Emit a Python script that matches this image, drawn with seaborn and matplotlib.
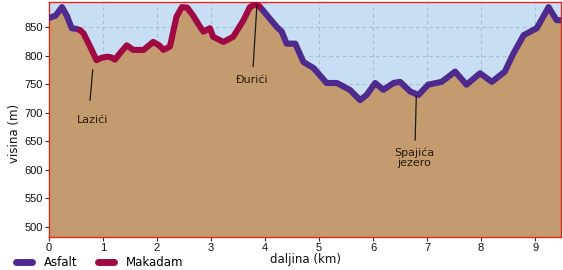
import matplotlib
matplotlib.use("Agg")
import matplotlib.pyplot as plt
from matplotlib.lines import Line2D
import seaborn as sns
import pandas as pd
import numpy as np

# ---- data ----
dist = [0.00, 0.12, 0.24, 0.33, 0.42, 0.50, 0.57, 0.64, 0.76, 0.88, 0.97, 1.07, 1.15, 1.22,
        1.33, 1.44, 1.56, 1.75, 1.93, 2.04, 2.12, 2.24, 2.36, 2.46, 2.56, 2.67, 2.80, 2.86,
        2.98, 3.04, 3.23, 3.41, 3.60, 3.72, 3.82, 3.90, 4.06, 4.22, 4.31, 4.40, 4.56, 4.71,
        4.90, 5.14, 5.33, 5.45, 5.57, 5.76, 5.88, 6.04, 6.19, 6.38, 6.50, 6.69, 6.84, 7.02,
        7.27, 7.52, 7.73, 7.98, 8.20, 8.44, 8.60, 8.79, 9.03, 9.15, 9.25, 9.40, 9.48]
elev = [866, 870, 885, 870, 848, 847, 845, 839, 816, 792, 796, 798, 797, 793,
        806, 818, 810, 810, 824, 818, 810, 816, 868, 885, 884, 870, 850, 842,
        848, 833, 824, 833, 862, 885, 890, 886, 868, 850, 842, 821, 821, 789,
        778, 752, 752, 746, 740, 722, 731, 752, 740, 752, 754, 737, 731, 749,
        754, 772, 749, 769, 754, 772, 804, 836, 848, 868, 885, 862, 862]
# surface segments: (start km, end km, type)
seg_start = [0.00, 0.57, 3.90]
seg_end = [0.57, 3.90, 9.48]
seg_type = ["Asfalt", "Makadam", "Asfalt"]

places = ["Lazići", "Đurići", "Spajića\njezero"]
place_x = [0.81, 3.77, 6.77]
place_text_y = [687, 757, 621]
line_top = [(0.81, 775), (3.85, 889), (6.80, 728)]
line_bot = [(0.76, 722), (3.78, 781), (6.78, 652)]

xticks = list(range(0, 10))
yticks = [500, 550, 600, 650, 700, 750, 800, 850]

palette = {"Asfalt": "#4E2A8C", "Makadam": "#A00A44"}
sky = "#C8DEF5"
ground = "#C49B6E"
border = "#E02A1E"

# ---- build segment table ----
rows = []
for i, (s, e, t) in enumerate(zip(seg_start, seg_end, seg_type)):
    for d, h in zip(dist, elev):
        if s - 1e-9 <= d <= e + 1e-9:
            rows.append({"dist": d, "elev": h, "surface": t, "seg": i})
df = pd.DataFrame(rows)

fig = plt.figure(figsize=(5.63, 2.70), dpi=100, facecolor="white")
ax = fig.add_axes([49 / 563, 1 - 237 / 270, (561 - 49) / 563, (237 - 2) / 270])
ax.set_facecolor(sky)

ymin, ymax = 482, 894
ax.set_xlim(0, 9.48)
ax.set_ylim(ymin, ymax)

ax.set_axisbelow(True)
ax.grid(True, color="#A9BCD6", linestyle=(0, (3, 3)), linewidth=0.8)

ax.fill_between(dist, ymin, elev, color=ground, zorder=1, linewidth=0)

sns.lineplot(data=df, x="dist", y="elev", hue="surface", units="seg", estimator=None,
             sort=False, palette=palette, linewidth=4.4, legend=False, ax=ax, zorder=3,
             solid_capstyle="round", solid_joinstyle="round")

for name, px, py, (x0, y0), (x1, y1) in zip(places, place_x, place_text_y, line_top, line_bot):
    ax.plot([x0, x1], [y0, y1], color="#1a1a1a", linewidth=0.9, zorder=4)
    ax.text(px, py, name, ha="center", va="center", fontsize=8, color="#2a1a10",
            family="DejaVu Sans", linespacing=1.0, zorder=5)

for sp in ax.spines.values():
    sp.set_color(border)
    sp.set_linewidth(1.0)

ax.set_xticks(xticks)
ax.set_yticks(yticks)
ax.tick_params(axis="both", length=3, width=0.8, color="#333333", labelsize=8, pad=1.5,
               labelcolor="#111111")
for lab in ax.get_xticklabels() + ax.get_yticklabels():
    lab.set_family("Liberation Sans")

ax.set_xlabel("daljina (km)", fontsize=8.5, family="DejaVu Sans", labelpad=0, color="#111111")
ax.set_ylabel("visina (m)", fontsize=8.5, family="DejaVu Sans", color="#111111")
ax.yaxis.set_label_coords(-0.055, 0.44)

handles = [Line2D([0], [0], color=palette[k], lw=5, solid_capstyle="round") for k in ["Asfalt", "Makadam"]]
fig.legend(handles, ["Asfalt", "Makadam"], loc="lower left", bbox_to_anchor=(0.01, -0.035),
           ncol=2, frameon=False, handlelength=1.3, columnspacing=1.8, handletextpad=1.0,
           prop={"family": "DejaVu Sans", "size": 8.5})

fig.savefig("out.png", dpi=100, facecolor=fig.get_facecolor())
